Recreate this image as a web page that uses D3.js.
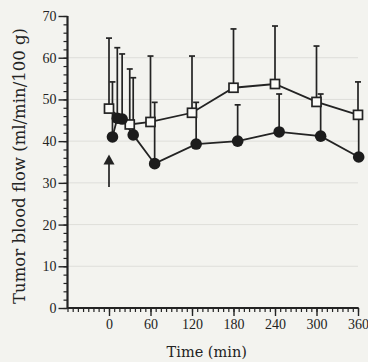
<!DOCTYPE html>
<html>
<head>
<meta charset="utf-8">
<script src="https://cdn.jsdelivr.net/npm/d3@7"></script>
<style>
  html, body { margin: 0; padding: 0; background: #f3f3ef; }
  svg { display: block; }
</style>
</head>
<body>
<svg id="chart" width="368" height="362"></svg>
<script>
// ---- data ----
const openTime   = [0, 30, 60, 120, 180, 240, 300, 360];
const openValue  = [47.8, 44.0, 44.6, 46.8, 52.8, 53.7, 49.4, 46.3];
const openErrTop = [64.7, 57.3, 60.4, 60.4, 66.9, 67.6, 62.8, 54.2];

const filledTime   = [5, 12, 19, 35, 66, 126, 186, 246, 306, 361];
const filledValue  = [41.0, 45.5, 45.3, 41.5, 34.6, 39.3, 40.0, 42.2, 41.2, 36.2];
const filledErrTop = [54.2, 62.4, 60.9, 55.2, 49.3, 49.3, 48.7, 51.3, 51.3, 46.5];

const xTicks = [0, 60, 120, 180, 240, 300, 360];
const yTicks = [0, 10, 20, 30, 40, 50, 60, 70];
const arrowTime = 0, arrowFrom = 29, arrowTo = 36.8;

const xLabel = "Time (min)";
const yLabel = "Tumor blood flow (ml/min/100 g)";

// ---- layout ----
const svg = d3.select("#chart");
const ink = "#232323";
const x = d3.scaleLinear().domain([-60, 360]).range([67.5, 358]);
const y = d3.scaleLinear().domain([0, 70]).range([308, 16]);

// gridlines
svg.append("g").selectAll("line").data(yTicks.filter(d => d > 0 && d < 70)).join("line")
  .attr("x1", x(-60)).attr("x2", x(360))
  .attr("y1", d => y(d)).attr("y2", d => y(d))
  .attr("stroke", "#dededa").attr("stroke-width", 1);

// minor ticks
const yMinor = d3.axisLeft(y).tickValues(d3.range(0, 70.1, 2)).tickSize(4).tickFormat("");
const xMinor = d3.axisBottom(x).tickValues(d3.range(-60, 360.1, 7.5)).tickSize(4).tickFormat("");
svg.append("g").attr("transform", `translate(${x(-60)},0)`).call(yMinor)
  .call(g => g.select(".domain").remove())
  .selectAll("line").attr("stroke", ink).attr("stroke-width", 1.2);
svg.append("g").attr("transform", `translate(0,${y(0)})`).call(xMinor)
  .call(g => g.select(".domain").remove())
  .selectAll("line").attr("stroke", ink).attr("stroke-width", 1.2);

// major axes
const yAxis = d3.axisLeft(y).tickValues(yTicks).tickSize(9).tickPadding(2).tickFormat(d3.format("d"));
const xAxis = d3.axisBottom(x).tickValues(xTicks).tickSize(8).tickPadding(3).tickFormat(d3.format("d"));
const gy = svg.append("g").attr("transform", `translate(${x(-60)},0)`).call(yAxis);
const gx = svg.append("g").attr("transform", `translate(0,${y(0)})`).call(xAxis);
[gx, gy].forEach(g => {
  g.select(".domain").attr("stroke", ink).attr("stroke-width", 2.2);
  g.selectAll(".tick line").attr("stroke", ink).attr("stroke-width", 1.4);
  g.selectAll(".tick text").attr("fill", ink)
    .style("font-family", "'Liberation Serif', serif").style("font-size", "14px");
});
gy.select(".domain").attr("d", `M0,${y(70)}V${y(0)}`);
gx.select(".domain").attr("d", `M${x(-60)},0H${x(361)}`);

// error bars
function errBars(times, vals, tops) {
  const g = svg.append("g").attr("stroke", ink).attr("stroke-width", 1.7);
  times.forEach((t, i) => {
    g.append("line").attr("x1", x(t)).attr("x2", x(t)).attr("y1", y(vals[i])).attr("y2", y(tops[i]));
    g.append("line").attr("x1", x(t) - 3).attr("x2", x(t) + 3).attr("y1", y(tops[i])).attr("y2", y(tops[i]));
  });
}
errBars(openTime, openValue, openErrTop);
errBars(filledTime, filledValue, filledErrTop);

// lines
const line = d3.line().x(d => x(d[0])).y(d => y(d[1]));
svg.append("path").datum(openTime.map((t, i) => [t, openValue[i]]))
  .attr("d", line).attr("fill", "none").attr("stroke", ink).attr("stroke-width", 1.8);
svg.append("path").datum(filledTime.map((t, i) => [t, filledValue[i]]))
  .attr("d", line).attr("fill", "none").attr("stroke", ink).attr("stroke-width", 1.8);

// markers
svg.append("g").selectAll("rect").data(openTime.map((t, i) => [t, openValue[i]])).join("rect")
  .attr("x", d => x(d[0]) - 4.5).attr("y", d => y(d[1]) - 4.5)
  .attr("width", 9).attr("height", 9)
  .attr("fill", "#fbfbf8").attr("stroke", ink).attr("stroke-width", 1.7);
svg.append("g").selectAll("circle").data(filledTime.map((t, i) => [t, filledValue[i]])).join("circle")
  .attr("cx", d => x(d[0])).attr("cy", d => y(d[1])).attr("r", 5.8)
  .attr("fill", "#1c1c1c");

// arrow
const ax = x(arrowTime);
svg.append("line").attr("x1", ax).attr("x2", ax).attr("y1", y(arrowFrom)).attr("y2", y(arrowTo) + 6)
  .attr("stroke", ink).attr("stroke-width", 1.7);
svg.append("path")
  .attr("d", `M${ax},${y(arrowTo)}L${ax - 5.5},${y(arrowTo) + 10}L${ax + 5.5},${y(arrowTo) + 10}Z`)
  .attr("fill", ink);

// axis titles
svg.append("text").attr("x", (x(-60) + x(360)) / 2 - 6).attr("y", 357)
  .attr("text-anchor", "middle").attr("fill", ink)
  .style("font-family", "'DejaVu Serif', serif").style("font-size", "14.5px")
  .text(xLabel);
svg.append("text").attr("transform", `translate(24.5,166) rotate(-90)`)
  .attr("text-anchor", "middle").attr("fill", ink)
  .style("font-family", "'DejaVu Serif', serif").style("font-size", "16.5px")
  .text(yLabel);
</script>
</body>
</html>
